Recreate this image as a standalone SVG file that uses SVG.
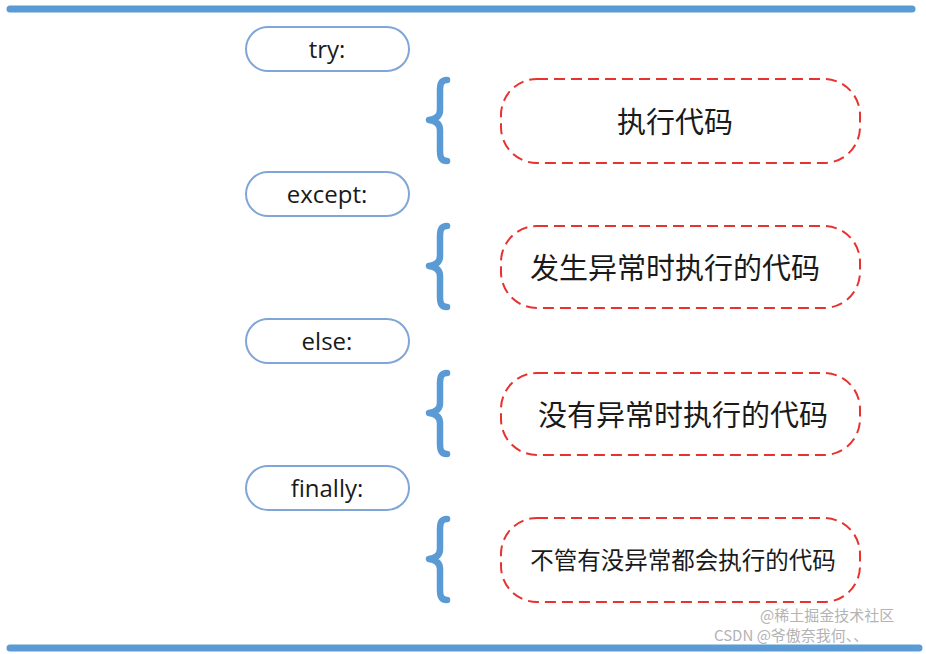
<svg xmlns="http://www.w3.org/2000/svg" width="926" height="654" viewBox="0 0 926 654">
<style>
.bar{stroke:#5b9bd5;stroke-width:7;stroke-linecap:round;fill:none}
.pill{fill:#fff;stroke:#7fa6d6;stroke-width:2}
.kw{font-family:"Open Sans","Liberation Sans",sans-serif;font-size:24px;fill:#1a1a1a;text-anchor:middle;dominant-baseline:central}
.box{fill:#fff;stroke:#e8322f;stroke-width:2;stroke-dasharray:11 6}
.zh{font-family:"Noto Sans CJK SC","Noto Sans",sans-serif;fill:#1a1a1a;text-anchor:middle;dominant-baseline:central}
.brace{stroke:#5b9bd5;stroke-width:6.5;stroke-linecap:round;stroke-linejoin:round;fill:none}
.wm{font-family:"Noto Sans CJK SC","Liberation Sans",sans-serif;font-size:15px;fill:#9a9a9a;opacity:0.75}
</style>
<rect width="926" height="654" fill="#ffffff"/>
<line class="bar" x1="10" y1="9" x2="912" y2="9"/>
<line class="bar" x1="10" y1="648" x2="919" y2="648"/>

<g id="try"><rect class="pill" x="246" y="27" width="163" height="44" rx="22"/><text class="kw" x="327" y="48">try:</text></g>
<g id="except"><rect class="pill" x="246" y="172" width="163" height="44" rx="22"/><text class="kw" x="327" y="193">except:</text></g>
<g id="else"><rect class="pill" x="246" y="319" width="163" height="44" rx="22"/><text class="kw" x="327" y="340">else:</text></g>
<g id="finally"><rect class="pill" x="246" y="466" width="163" height="44" rx="22"/><text class="kw" x="327" y="487">finally:</text></g>

<g id="connectors">
<path class="brace" d="M447,80 C441,80 440,84 440,91 L440,110 C440,116 436,119 429,120 C436,121 440,124 440,130 L440,150 C440,157 441,161 447,161"/>
<path class="brace" d="M447,226 C441,226 440,230 440,237 L440,256 C440,262 436,265 429,266 C436,267 440,270 440,276 L440,296 C440,303 441,307 447,307"/>
<path class="brace" d="M447,373 C441,373 440,377 440,384 L440,403 C440,409 436,412 429,413 C436,414 440,417 440,423 L440,443 C440,450 441,454 447,454"/>
<path class="brace" d="M447,519 C441,519 440,523 440,530 L440,549 C440,555 436,558 429,559 C436,560 440,563 440,569 L440,589 C440,596 441,600 447,600"/>
</g>

<g id="code1"><rect class="box" x="501" y="79" width="359" height="84" rx="36"/><text class="zh" x="675" y="120" font-size="29">执行代码</text></g>
<g id="code2"><rect class="box" x="501" y="226" width="359" height="82" rx="36"/><text class="zh" x="675" y="266" font-size="29">发生异常时执行的代码</text></g>
<g id="code3"><rect class="box" x="501" y="373" width="359" height="82" rx="36"/><text class="zh" x="683" y="413" font-size="29">没有异常时执行的代码</text></g>
<g id="code4"><rect class="box" x="501" y="518" width="359" height="84" rx="36"/><text class="zh" x="683" y="559" font-size="23.5">不管有没异常都会执行的代码</text></g>

<text class="wm" x="760" y="621">@稀土掘金技术社区</text>
<text class="wm" x="714" y="641">CSDN @爷傲奈我何、、</text>
</svg>
